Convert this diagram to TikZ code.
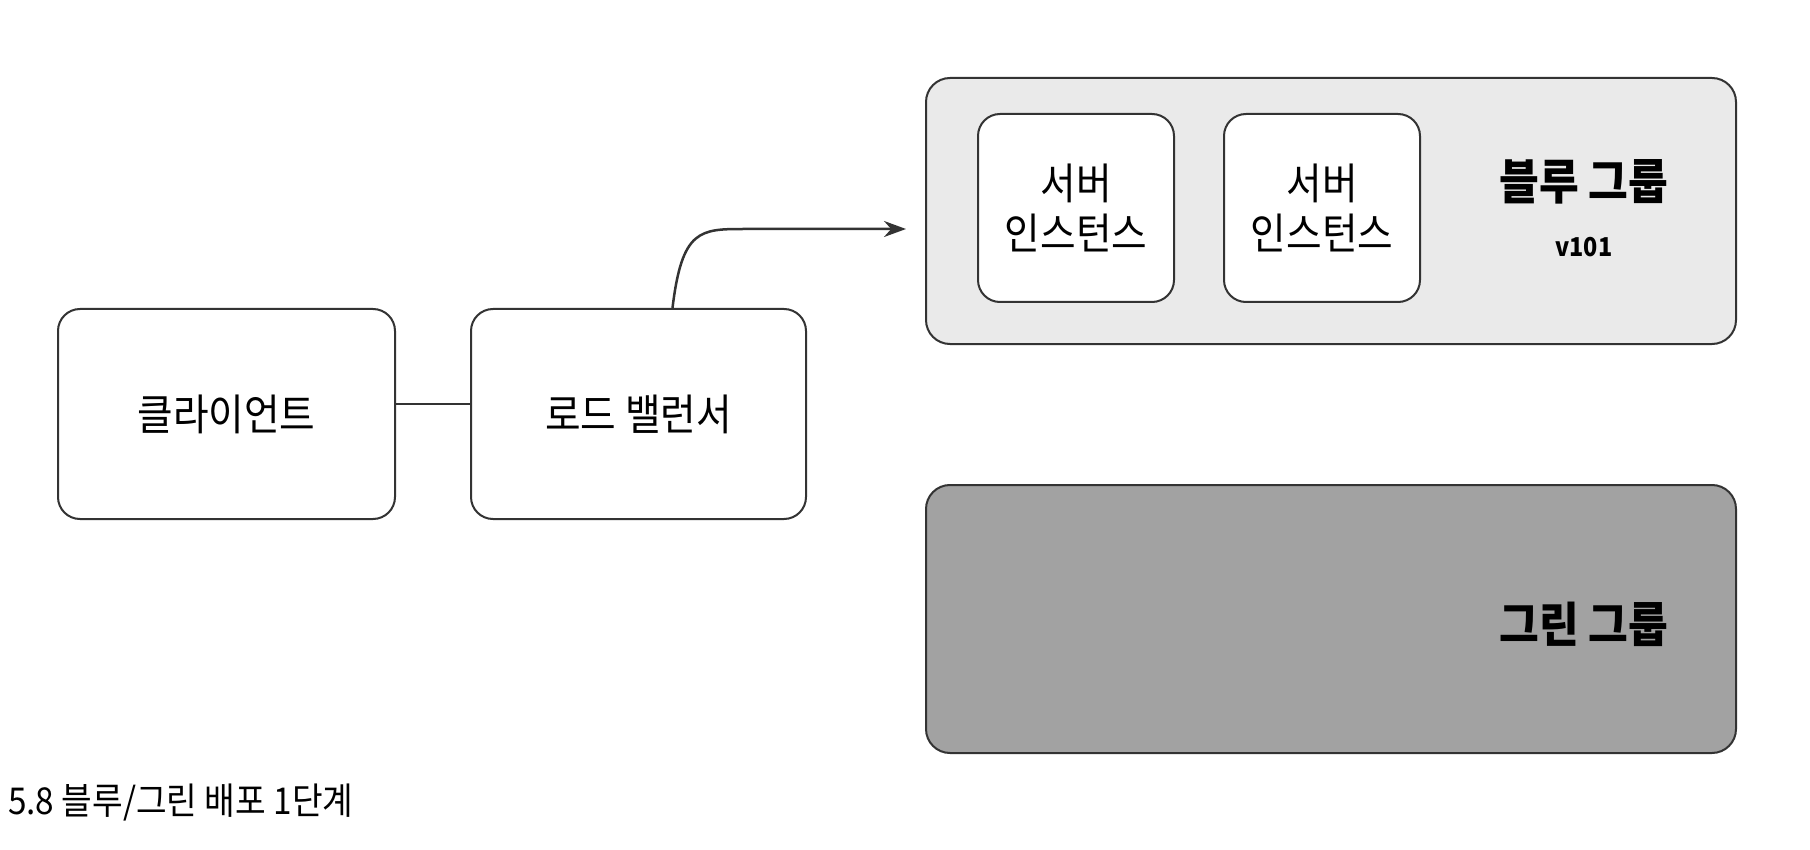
\documentclass[tikz,border=0pt]{standalone}
\usepackage{fontspec}
\setmainfont{Noto Sans CJK KR}
\newfontfamily\kr{Noto Sans CJK KR}
\newfontfamily\krn[FakeStretch=0.9]{Noto Sans CJK KR}
\usetikzlibrary{arrows.meta}
\definecolor{edge}{HTML}{333333}
\definecolor{bluefill}{HTML}{EAEAEA}
\definecolor{greenfill}{HTML}{A2A2A2}
\tikzset{
  box/.style={draw=edge, line width=2pt, rounded corners=22pt, fill=white, inner sep=0pt, align=center, font=\krn\fontsize{43}{50}\selectfont},
  group/.style={draw=edge, line width=2pt, rounded corners=24pt, inner sep=0pt},
  grouplabel/.style={font=\krn\bfseries\fontsize{48}{54}\selectfont, inner sep=0pt},
  link/.style={draw=edge, line width=2.5pt},
}
\begin{document}
\begin{tikzpicture}[x=1pt, y=-1pt]
\useasboundingbox (0,0) rectangle (1810,850);
\node[box, minimum width=337pt, minimum height=210pt] (client) at (226.5,414) {클라이언트};
\node[box, minimum width=335pt, minimum height=210pt] (lb) at (638.5,414) {로드 밸런서};
\node[group, fill=bluefill, minimum width=810pt, minimum height=266pt] (blue) at (1331,211) {};
\node[box, minimum width=196pt, minimum height=188pt] (s1) at (1076,208) {서버\\인스턴스};
\node[box, minimum width=196pt, minimum height=188pt] (s2) at (1322,208) {서버\\인스턴스};
\node[grouplabel] (bluelabel) at (1584,182) {블루 그룹};
\node[font=\krn\bfseries\fontsize{26}{30}\selectfont, inner sep=0pt] (ver) at (1584,247) {v101};
\node[group, fill=greenfill, minimum width=810pt, minimum height=268pt] (green) at (1331,619) {};
\node[grouplabel] (greenlabel) at (1584,624) {그린 그룹};
\node[anchor=west, inner sep=0pt, font=\krn\fontsize{37}{40}\selectfont] (caption) at (8,803) {5.8 블루/그린 배포 1단계};
\coordinate (aend) at (906,229);
\draw[link] ([yshift=10pt]client.east) -- ([yshift=10pt]lb.west);
\draw[link, -{Stealth[length=22pt,width=16pt]}] ([xshift=34pt]lb.north) .. controls (682,229) and (700,229) .. (745,229) -- (aend);
\end{tikzpicture}
\end{document}
